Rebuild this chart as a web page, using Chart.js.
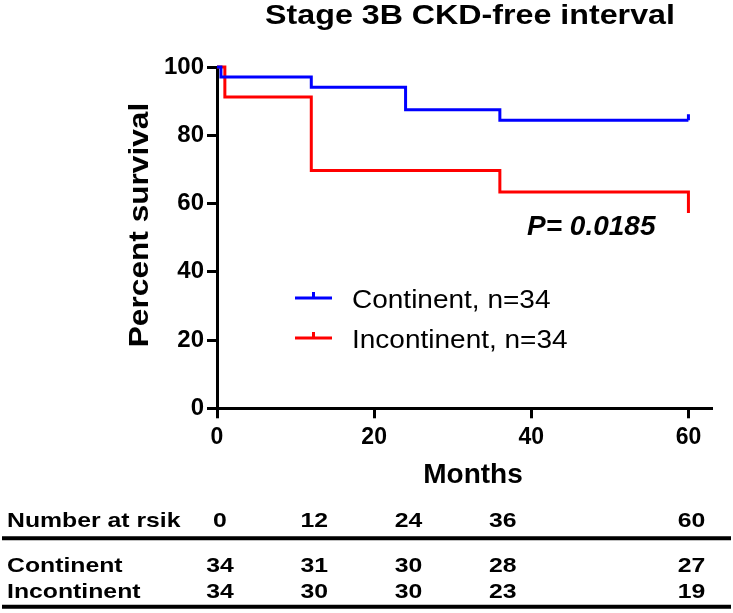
<!DOCTYPE html>
<html><head><meta charset="utf-8">
<script src="https://cdn.jsdelivr.net/npm/chart.js@4.4.0/dist/chart.umd.min.js"></script>
<style>html,body{margin:0;padding:0;background:#fff;}#wrap{position:relative;width:733px;height:613px;}</style>
</head><body><div id="wrap"><canvas id="c" width="733" height="613"></canvas></div>
<script>
// ---- data ----
const continentMonths = [0, 0.5, 12, 24, 36, 60];
const continentSurvival = [100, 97.1, 94.1, 87.5, 84.4, 84.4];
const incontinentMonths = [0, 1, 12, 36, 60];
const incontinentSurvival = [100, 91.2, 69.7, 63.4, 57.2];
const continentCensorMonths = [60];
const continentCensorSurvival = [84.4];
const seriesNames = ['Continent, n=34', 'Incontinent, n=34'];
const xTicks = [0, 20, 40, 60];
const riskMonths = [0, 12, 24, 36, 60];
const riskContinent = [34, 31, 30, 28, 27];
const riskIncontinent = [34, 30, 30, 23, 19];
const riskHeader = 'Number at rsik';
const riskRowNames = ['Continent', 'Incontinent'];
const pValueText = 'P= 0.0185';
const titleText = 'Stage 3B CKD-free interval';
const xTitleText = 'Months';
const yTitleText = 'Percent survival';

const FONT = '"Liberation Sans", Arial, sans-serif';
const BLUE = '#0000ff', RED = '#ff0000';

const toXY = (xs, ys) => xs.map((x, i) => ({x: x, y: ys[i]}));

function stretchedText(ctx, text, font, x, y, sx, align, rot) {
  ctx.save();
  ctx.translate(x, y);
  if (rot) ctx.rotate(rot);
  ctx.scale(sx, 1);
  ctx.font = font;
  ctx.textAlign = align;
  ctx.textBaseline = 'alphabetic';
  ctx.fillStyle = '#000';
  ctx.fillText(text, 0, 0);
  ctx.restore();
}

const extras = {
  id: 'extras',
  afterDraw(chart) {
    const ctx = chart.ctx, xs = chart.scales.x;
    const W = chart.width;
    ctx.save();
    // title
    stretchedText(ctx, titleText, 'bold 28px ' + FONT, 470, 23.5, 1.15, 'center');
    // axis titles
    stretchedText(ctx, xTitleText, 'bold 28px ' + FONT, 473, 483, 1.0, 'center');
    stretchedText(ctx, yTitleText, 'bold 28px ' + FONT, 148, 225, 1.13, 'center', -Math.PI / 2);
    // legend
    const colors = [BLUE, RED];
    const ly = [298, 338];
    const lx0 = 295, lx1 = 332;
    colors.forEach((c, i) => {
      ctx.strokeStyle = c; ctx.lineWidth = 3; ctx.lineCap = 'butt';
      ctx.beginPath();
      ctx.moveTo(lx0, ly[i]); ctx.lineTo(lx1, ly[i]);
      const mx = (lx0 + lx1) / 2;
      ctx.moveTo(mx, ly[i]); ctx.lineTo(mx, ly[i] - 6);
      ctx.stroke();
      stretchedText(ctx, seriesNames[i], '25px ' + FONT, 352, ly[i] + 10, 1.12, 'left');
    });
    // p value
    stretchedText(ctx, pValueText, 'italic bold 28px ' + FONT, 527, 235, 1.0, 'left');
    // risk table
    const tf = 'bold 21px ' + FONT, tsx = 1.18;
    const bHead = 527, bR1 = 572, bR2 = 598, yLine1 = 538.3, yLine2 = 606.7;
    stretchedText(ctx, riskHeader, tf, 7, bHead, tsx, 'left');
    stretchedText(ctx, riskRowNames[0], tf, 7, bR1, tsx, 'left');
    stretchedText(ctx, riskRowNames[1], tf, 7, bR2, tsx, 'left');
    riskMonths.forEach((m, i) => {
      const px = xs.getPixelForValue(m) + 3;
      stretchedText(ctx, String(m), tf, px, bHead, tsx, 'center');
      stretchedText(ctx, String(riskContinent[i]), tf, px, bR1, tsx, 'center');
      stretchedText(ctx, String(riskIncontinent[i]), tf, px, bR2, tsx, 'center');
    });
    ctx.strokeStyle = '#000'; ctx.lineWidth = 4;
    ctx.beginPath();
    ctx.moveTo(2, yLine1); ctx.lineTo(W - 2, yLine1);
    ctx.moveTo(2, yLine2); ctx.lineTo(W - 2, yLine2);
    ctx.stroke();
    ctx.restore();
  }
};

new Chart(document.getElementById('c'), {
  type: 'line',
  data: {
    datasets: [
      {label: seriesNames[0], data: toXY(continentMonths, continentSurvival), borderColor: BLUE, borderWidth: 3, stepped: true, pointRadius: 0, fill: false, clip: false},
      {label: seriesNames[1], data: toXY(incontinentMonths, incontinentSurvival), borderColor: RED, borderWidth: 3, stepped: true, pointRadius: 0, fill: false, clip: false},
      {type: 'scatter', label: 'censor', data: toXY(continentCensorMonths, continentCensorSurvival), showLine: false, pointStyle: 'dash', rotation: -90, pointRadius: 6, borderColor: BLUE, borderWidth: 3, backgroundColor: BLUE, clip: false}
    ]
  },
  options: {
    responsive: false,
    animation: false,
    events: [],
    layout: {padding: {left: 0, right: 21, top: 67, bottom: 133}},
    plugins: {
      legend: {display: false},
      tooltip: {enabled: false},
      title: {display: false}
    },
    scales: {
      x: {
        type: 'linear', min: 0, max: 63,
        afterBuildTicks: s => { s.ticks = xTicks.map(v => ({value: v})); },
        afterFit: s => { s.height = 71.7; },
        grid: {display: true, drawOnChartArea: false, drawTicks: true, tickLength: 10, tickWidth: 3, tickColor: '#000'},
        border: {display: true, color: '#000', width: 3},
        ticks: {color: '#000', font: {family: FONT, size: 23, weight: 'bold'}, padding: 6, maxRotation: 0},
        title: {display: false}
      },
      y: {
        min: 0, max: 100,
        afterFit: s => { s.width = 217; },
        grid: {display: true, drawOnChartArea: false, drawTicks: true, tickLength: 10, tickWidth: 3, tickColor: '#000'},
        border: {display: true, color: '#000', width: 3},
        ticks: {stepSize: 20, color: '#000', font: {family: FONT, size: 24, weight: 'bold'}, padding: 3},
        title: {display: false}
      }
    }
  },
  plugins: [extras]
});
</script></body></html>
